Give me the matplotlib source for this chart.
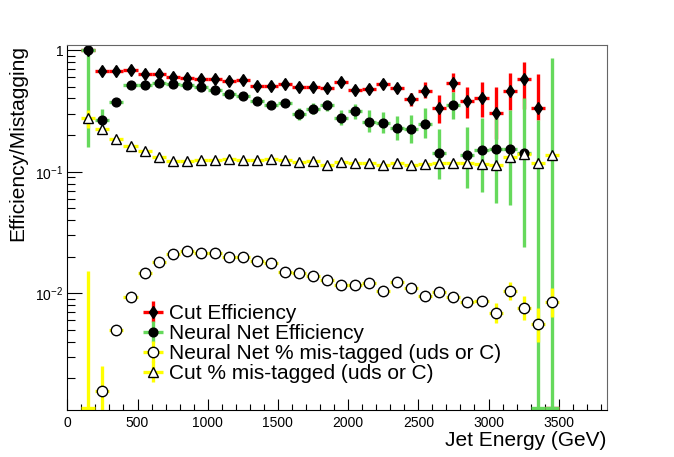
import numpy as np
import matplotlib
matplotlib.use("Agg")
import matplotlib.pyplot as plt
from matplotlib.ticker import MultipleLocator, LogLocator, FuncFormatter, NullFormatter

plt.rcParams['font.family'] = ['Liberation Sans', 'DejaVu Sans']
plt.rcParams['mathtext.default'] = 'regular'

# bin centres (GeV), 100 GeV wide bins
energy = [150, 250, 350, 450, 550, 650, 750, 850, 950, 1050, 1150, 1250,
          1350, 1450, 1550, 1650, 1750, 1850, 1950, 2050, 2150, 2250, 2350,
          2450, 2550, 2650, 2750, 2850, 2950, 3050, 3150, 3250, 3350, 3450]
half_bin = 50

cut_eff = [1.0, 0.676, 0.668, 0.681, 0.631, 0.631, 0.597, 0.586, 0.581, 0.578,
           0.553, 0.567, 0.509, 0.506, 0.526, 0.499, 0.499, 0.487, 0.549, 0.469,
           0.481, 0.523, 0.485, 0.397, 0.463, 0.334, 0.538, 0.381, 0.401, 0.306,
           0.463, 0.574, 0.335, 0.0]
cut_eff_lo = [0.03, 0.025, 0.02, 0.02, 0.02, 0.02, 0.02, 0.02, 0.02, 0.02,
              0.02, 0.02, 0.025, 0.025, 0.025, 0.025, 0.025, 0.025, 0.033, 0.035,
              0.038, 0.04, 0.045, 0.05, 0.062, 0.084, 0.084, 0.106, 0.12, 0.12,
              0.142, 0.248, 0.069, 0.0]
cut_eff_hi = [0.0, 0.025, 0.02, 0.02, 0.02, 0.02, 0.02, 0.02, 0.02, 0.02,
              0.02, 0.02, 0.025, 0.025, 0.025, 0.025, 0.025, 0.025, 0.033, 0.035,
              0.038, 0.04, 0.045, 0.05, 0.086, 0.093, 0.105, 0.118, 0.142, 0.188,
              0.18, 0.226, 0.296, 0.0]

nn_eff = [1.0, 0.266, 0.372, 0.513, 0.513, 0.533, 0.523, 0.516, 0.494, 0.466,
          0.435, 0.421, 0.381, 0.353, 0.369, 0.298, 0.330, 0.351, 0.278, 0.313,
          0.258, 0.253, 0.230, 0.224, 0.247, 0.143, 0.355, 0.138, 0.151, 0.155,
          0.153, 0.143, 0.0, 0.0]
nn_eff_lo = [0.84, 0.046, 0.015, 0.015, 0.015, 0.015, 0.015, 0.015, 0.015, 0.015,
             0.015, 0.015, 0.018, 0.02, 0.02, 0.03, 0.032, 0.033, 0.038, 0.04,
             0.045, 0.046, 0.048, 0.052, 0.057, 0.056, 0.085, 0.065, 0.083, 0.10,
             0.10, 0.119, 0.0, 0.0]
nn_eff_hi = [0.0, 0.061, 0.015, 0.015, 0.015, 0.015, 0.015, 0.015, 0.015, 0.015,
             0.015, 0.015, 0.018, 0.02, 0.02, 0.034, 0.036, 0.037, 0.044, 0.045,
             0.063, 0.055, 0.057, 0.068, 0.087, 0.08, 0.099, 0.096, 0.123, 0.166,
             0.168, 0.263, 0.266, 0.855]

nn_mistag = [0.0, 0.00159, 0.0050, 0.0093, 0.0148, 0.0180, 0.0209, 0.0223, 0.0213,
             0.0213, 0.0200, 0.0199, 0.0186, 0.0177, 0.0151, 0.0146, 0.0139, 0.0129,
             0.0118, 0.0117, 0.0122, 0.0105, 0.0123, 0.0110, 0.0095, 0.0103, 0.0093,
             0.0085, 0.0087, 0.0069, 0.0105, 0.0076, 0.0056, 0.0085]
nn_mistag_lo = [0.0, 0.0011, 0.0004, 0.0005, 0.0005, 0.0005, 0.0005, 0.0005, 0.0005,
                0.0005, 0.0005, 0.0005, 0.0005, 0.0005, 0.0005, 0.0005, 0.0005, 0.0005,
                0.0005, 0.0005, 0.0005, 0.0005, 0.0005, 0.0007, 0.0007, 0.0008, 0.0008,
                0.0007, 0.0007, 0.0012, 0.0017, 0.0016, 0.0016, 0.0021]
nn_mistag_hi = [0.0142, 0.00096, 0.0004, 0.0005, 0.0005, 0.0005, 0.0005, 0.0005, 0.0005,
                0.0005, 0.0005, 0.0005, 0.0005, 0.0005, 0.0005, 0.0005, 0.0005, 0.0005,
                0.0005, 0.0005, 0.0005, 0.0005, 0.0005, 0.0007, 0.0007, 0.0008, 0.0008,
                0.0007, 0.0007, 0.0015, 0.0020, 0.0019, 0.0020, 0.0026]

cut_mistag = [0.275, 0.224, 0.186, 0.163, 0.149, 0.131, 0.122, 0.122, 0.124, 0.125,
              0.128, 0.126, 0.126, 0.128, 0.125, 0.121, 0.122, 0.114, 0.120, 0.118,
              0.117, 0.114, 0.117, 0.114, 0.116, 0.117, 0.119, 0.117, 0.116, 0.114,
              0.133, 0.140, 0.119, 0.136]
cut_mistag_err = [0.046, 0.01, 0.006, 0.005, 0.004, 0.004, 0.004, 0.004, 0.004, 0.004,
                  0.004, 0.004, 0.004, 0.004, 0.004, 0.004, 0.004, 0.004, 0.004, 0.004,
                  0.005, 0.005, 0.005, 0.005, 0.005, 0.006, 0.006, 0.006, 0.007, 0.007,
                  0.008, 0.009, 0.009, 0.01]

y_min, y_max = 0.0011, 1.1
x_max = 3842

red = '#ff0000'
green = '#66d95c'
yellow = '#ffff00'


def draw(ax, y, lo, hi, color, marker, face, size, label):
    x = np.array(energy)
    y = np.array(y)
    lo = np.array(lo)
    hi = np.array(hi)
    ok = y > 0
    ax.errorbar(x[ok], y[ok], xerr=half_bin, yerr=[lo[ok], hi[ok]],
                fmt=marker, ms=size, mfc=face, mec='black', mew=1.0,
                ecolor=color, elinewidth=2.4, capsize=0, label=label)
    if (~ok).any():
        # empty bins sit on the floor of the log axis, like ROOT does
        floor = np.full((~ok).sum(), y_min * 1.03)
        ax.errorbar(x[~ok], floor, xerr=half_bin, yerr=[np.zeros(len(floor)), hi[~ok]],
                    fmt='none', ecolor=color, elinewidth=2.4, capsize=0)


fig = plt.figure(figsize=(6.74, 4.57), dpi=100)
ax = fig.add_axes([0.0999, 0.1028, 0.8003, 0.7987])

draw(ax, cut_eff, cut_eff_lo, cut_eff_hi, red, 'd', 'black', 6, 'Cut Efficiency')
draw(ax, nn_eff, nn_eff_lo, nn_eff_hi, green, 'o', 'black', 6.3, 'Neural Net Efficiency')
draw(ax, nn_mistag, nn_mistag_lo, nn_mistag_hi, yellow, 'o', 'white', 7.5,
     'Neural Net % mis-tagged (uds or C)')
draw(ax, cut_mistag, cut_mistag_err, cut_mistag_err, yellow, '^', 'white', 7.5,
     'Cut % mis-tagged (uds or C)')

ax.set_yscale('log')
ax.set_xlim(0, x_max)
ax.set_ylim(y_min, y_max)

ax.xaxis.set_major_locator(MultipleLocator(500))
ax.xaxis.set_minor_locator(MultipleLocator(100))
ax.yaxis.set_major_locator(LogLocator(base=10, numticks=10))
ax.yaxis.set_minor_locator(LogLocator(base=10, subs=np.arange(2, 10), numticks=20))
ax.yaxis.set_minor_formatter(NullFormatter())
ax.yaxis.set_major_formatter(FuncFormatter(
    lambda v, pos: '1' if abs(v - 1) < 1e-9 else r'$10^{%d}$' % round(np.log10(v))))

ax.tick_params(axis='both', which='both', direction='in', top=False, right=False,
               labelsize=10, width=0.8)
ax.tick_params(axis='x', which='major', length=8, pad=4)
ax.tick_params(axis='x', which='minor', length=4)
ax.tick_params(axis='y', which='major', length=11, pad=3)
ax.tick_params(axis='y', which='minor', length=5.5)
for side in ['top', 'right']:
    ax.spines[side].set_color('#666666')

ax.set_xlabel('Jet Energy (GeV)', fontsize=15, loc='right')
ax.xaxis.set_label_coords(1.0, -0.058)
ax.set_ylabel('Efficiency/Mistagging', fontsize=15, loc='top')
ax.yaxis.set_label_coords(-0.075, 1.0)

ax.legend(loc='upper left', bbox_to_anchor=(141 / 674, 1 - 304 / 457),
          bbox_transform=fig.transFigure, frameon=False, fontsize=15,
          handlelength=1.15, handletextpad=0.2, labelspacing=0.05,
          borderpad=0, borderaxespad=0)

fig.savefig('out.png', dpi=100)
